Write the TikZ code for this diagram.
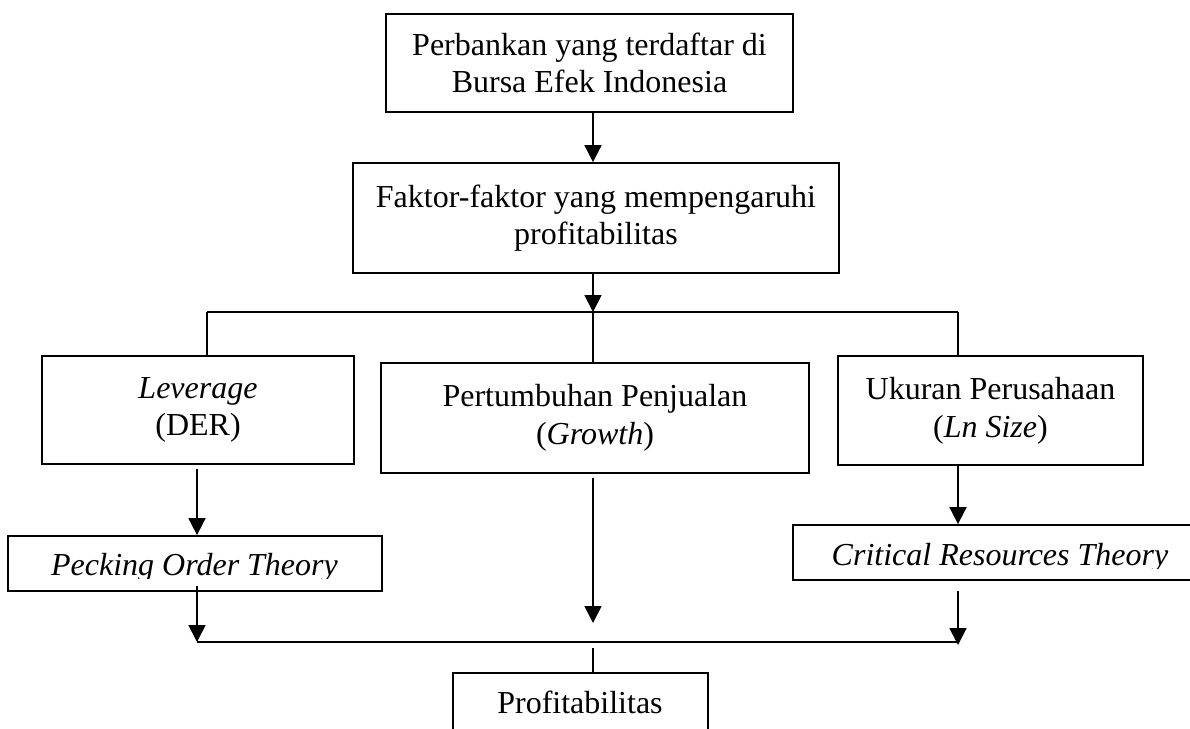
\documentclass[tikz,border=0pt]{standalone}
\usepackage{fontspec}
\setmainfont{Liberation Serif}
\usetikzlibrary{arrows.meta}
\begin{document}
\begin{tikzpicture}[x=0.5pt,y=-0.5pt,
  box/.style={draw,line width=0.9pt,inner sep=0pt,align=center,font=\fontsize{16}{18.8}\selectfont},
  lbl/.style={inner sep=0pt,font=\fontsize{16}{18.8}\selectfont},
  conn/.style={line width=0.9pt},
  arr/.style={line width=0.9pt,-{Triangle[width=8.5pt,length=8.5pt]}}]
\useasboundingbox (0,0) rectangle (1190,729);
\clip (0,0) rectangle (1190,729);
% boxes
\node[box,minimum width=203.5pt,minimum height=49pt] (top) at (589.5,63)
  {Perbankan yang terdaftar di\\Bursa Efek Indonesia};
\node[box,minimum width=243pt,minimum height=55pt] (fak) at (596,218)
  {Faktor-faktor yang mempengaruhi\\profitabilitas};
\node[box,minimum width=156pt,minimum height=54pt] (lev) at (198,410)
  {\textit{Leverage}\\(DER)};
\node[box,minimum width=214pt,minimum height=55pt] (grw) at (595,418)
  {Pertumbuhan Penjualan\\(\textit{Growth})};
\node[box,minimum width=152.5pt,minimum height=54.5pt] (uku) at (990.5,410.5)
  {Ukuran Perusahaan\\(\textit{Ln Size})};
\node[box,minimum width=187pt,minimum height=27.5pt] (peck) at (195,563.5) {};
\node[box,minimum width=203.5pt,minimum height=27.5pt] (crit) at (996.5,552.5) {};
\node[box,minimum width=127.5pt,minimum height=33.5pt] (prof) at (580.5,706.5) {};
% clipped texts
\begin{scope}
  \clip (8,536) rectangle (382,578);
  \node[lbl,anchor=base] (pecktxt) at (194.5,575) {\itshape Pecking Order Theory};
\end{scope}
\begin{scope}
  \clip (793,525) rectangle (1190,568);
  \node[lbl,anchor=base] (crittxt) at (1000,565) {\itshape Critical Resources Theory};
\end{scope}
\node[lbl,anchor=base] (proftxt) at (580,713) {Profitabilitas};
% coordinates
\coordinate (xm) at (593,0);
\coordinate (xl) at (197,0);
\coordinate (jl) at (207,312);
\coordinate (jm) at (593,312);
\coordinate (jr) at (958,312);
\coordinate (bl) at (197,642);
\coordinate (bm) at (593,642);
\coordinate (br) at (958,642);
\coordinate (gend) at (593,623);
% connectors
\draw[arr] (top.south -| xm) -- (fak.north -| xm);
\draw[arr] (fak.south -| xm) -- (jm);
\draw[conn] (jl) -- (jr);
\draw[conn] (jl) -- (lev.north -| jl);
\draw[conn] (jm) -- (grw.north -| jm);
\draw[conn] (jr) -- (uku.north -| jr);
\draw[arr,shorten <=2pt] (lev.south -| xl) -- (peck.north -| xl);
\draw[arr] ([yshift=3pt]peck.south -| xl) -- (bl);
\draw[arr,shorten <=2pt] (grw.south -| xm) -- (gend);
\draw[arr] (uku.south -| jr) -- (crit.north -| jr);
\draw[arr,shorten <=5pt,shorten >=-1.5pt] (crit.south -| jr) -- (br);
\draw[conn] (bl) -- (br);
\draw[conn,shorten <=3pt] (bm) -- (prof.north -| bm);
\end{tikzpicture}
\end{document}
